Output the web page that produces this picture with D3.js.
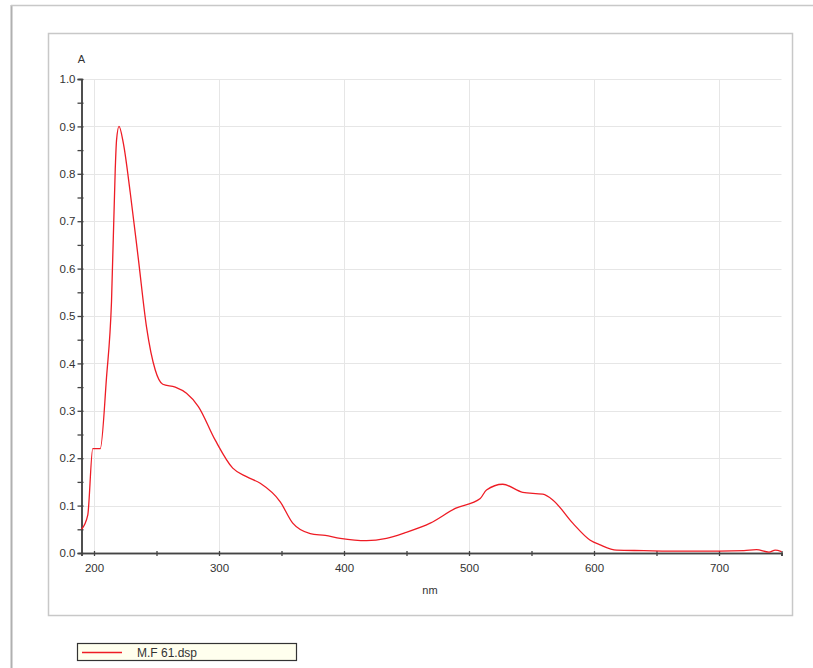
<!DOCTYPE html>
<html>
<head>
<meta charset="utf-8">
<script src="https://cdn.jsdelivr.net/npm/d3@7"></script>
<style>
  html, body { margin: 0; padding: 0; background: #fff; }
  svg { display: block; }
  text { font-family: "Liberation Sans", Arial, sans-serif; fill: #333; }
</style>
</head>
<body>
<svg id="chart" width="813" height="668"></svg>
<script>
// Spectrum data (wavelength in nm, absorbance A)
const wavelengths = [190, 195, 199, 205, 210, 214, 217, 218, 220, 223.5, 229, 235.5, 242, 249, 255, 265, 274, 283.5, 297, 311, 322, 333, 349, 359, 373, 385, 397, 418, 434, 449, 469, 489, 509, 514, 527, 543, 559, 567, 583, 597, 605, 618, 640, 660, 680, 700, 720, 730, 740, 745, 750];
const absorbance  = [0.05, 0.08, 0.22, 0.22, 0.37, 0.53, 0.81, 0.87, 0.90, 0.864, 0.76, 0.62, 0.477, 0.386, 0.356, 0.35, 0.337, 0.309, 0.238, 0.179, 0.161, 0.147, 0.108, 0.063, 0.041, 0.037, 0.031, 0.026, 0.031, 0.043, 0.063, 0.094, 0.115, 0.133, 0.145, 0.128, 0.124, 0.112, 0.063, 0.027, 0.017, 0.006, 0.005, 0.004, 0.004, 0.004, 0.005, 0.007, 0.002, 0.006, 0.003];
const xTicks = [200, 300, 400, 500, 600, 700];
const xMinorTicks = [250, 350, 450, 550, 650, 750];
const yTicks = [0, 0.1, 0.2, 0.3, 0.4, 0.5, 0.6, 0.7, 0.8, 0.9, 1.0];
const yMinorTicks = [0.05, 0.15, 0.25, 0.35, 0.45, 0.55, 0.65, 0.75, 0.85, 0.95];
const seriesName = "M.F 61.dsp";
const xLabel = "nm";
const yLabel = "A";

const FONT = '"Liberation Sans", Arial, sans-serif';
const svg = d3.select("#chart");

// outer frame
svg.append("line").attr("x1", 11.5).attr("x2", 11.5).attr("y1", 5).attr("y2", 668)
  .attr("stroke", "#b0b0b0").attr("stroke-width", 2);
svg.append("line").attr("x1", 11).attr("x2", 813).attr("y1", 5.5).attr("y2", 5.5)
  .attr("stroke", "#c8c8c8").attr("stroke-width", 1.5);

// inner panel
svg.append("rect").attr("x", 48.5).attr("y", 33.5).attr("width", 744).attr("height", 582)
  .attr("fill", "#fff").attr("stroke", "#c8c8c8").attr("stroke-width", 1.5);

const x = d3.scaleLinear().domain([190, 750]).range([81.5, 781.5]);
const y = d3.scaleLinear().domain([0, 1]).range([553, 79]);

// grid
const grid = svg.append("g");
grid.selectAll(".vg").data(xTicks).join("line")
  .attr("x1", d => Math.round(x(d)) + 0.5).attr("x2", d => Math.round(x(d)) + 0.5)
  .attr("y1", y(1)).attr("y2", y(0)).attr("stroke", "#e6e6e6");
grid.selectAll(".hg").data(yTicks.filter(d => d > 0)).join("line")
  .attr("x1", x(190)).attr("x2", x(750))
  .attr("y1", d => Math.round(y(d)) + 0.5).attr("y2", d => Math.round(y(d)) + 0.5)
  .attr("stroke", "#e6e6e6");

// axes
const axisColor = "#444";
const yAxis = svg.append("g").attr("transform", `translate(${x(190)},0)`)
  .call(d3.axisLeft(y).tickValues(yTicks).tickFormat(d3.format(".1f")).tickSize(4).tickPadding(2));
const yMinor = svg.append("g").attr("transform", `translate(${x(190)},0)`)
  .call(d3.axisLeft(y).tickValues(yMinorTicks).tickFormat("").tickSize(3));
const xAxis = svg.append("g").attr("transform", `translate(0,${y(0)})`)
  .call(d3.axisBottom(x).tickValues(xTicks).tickFormat(d3.format("d")).tickSize(3).tickPadding(8));
const xMinor = svg.append("g").attr("transform", `translate(0,${y(0)})`)
  .call(d3.axisBottom(x).tickValues(xMinorTicks).tickFormat("").tickSize(3));

[yAxis, yMinor, xAxis, xMinor].forEach(g => {
  g.select(".domain").attr("stroke", axisColor).attr("stroke-width", 1.5);
  g.selectAll(".tick line").attr("stroke", axisColor).attr("stroke-width", 1.3);
  g.selectAll("text").attr("font-size", 11.5).attr("fill", "#333").style("font-family", FONT);
});
// ticks crossing the axis
[yAxis, yMinor].forEach(g => g.selectAll(".tick line").attr("x2", -4).attr("x1", 2));
[xAxis, xMinor].forEach(g => g.selectAll(".tick line").attr("y1", -2).attr("y2", 3));

// axis labels
svg.append("text").attr("x", x(190)).attr("y", 63).attr("text-anchor", "middle")
  .attr("font-size", 11).text(yLabel);
svg.append("text").attr("x", 430).attr("y", 594).attr("text-anchor", "middle")
  .attr("font-size", 11).text(xLabel);

// curve
const data = wavelengths.map((w, i) => ({ w, a: absorbance[i] }));
const line = d3.line().x(d => x(d.w)).y(d => y(d.a)).curve(d3.curveMonotoneX);
svg.append("path").datum(data).attr("d", line)
  .attr("fill", "none").attr("stroke", "#ee1c25").attr("stroke-width", 1.3);

// legend
const lg = svg.append("g");
lg.append("rect").attr("x", 77.5).attr("y", 643.5).attr("width", 219).attr("height", 17)
  .attr("fill", "#ffffee").attr("stroke", "#333").attr("stroke-width", 1.2);
lg.append("line").attr("x1", 82).attr("x2", 122).attr("y1", 652.5).attr("y2", 652.5)
  .attr("stroke", "#ee1c25").attr("stroke-width", 1.3);
lg.append("text").attr("x", 137).attr("y", 656.5).attr("font-size", 12).text(seriesName);
</script>
</body>
</html>
